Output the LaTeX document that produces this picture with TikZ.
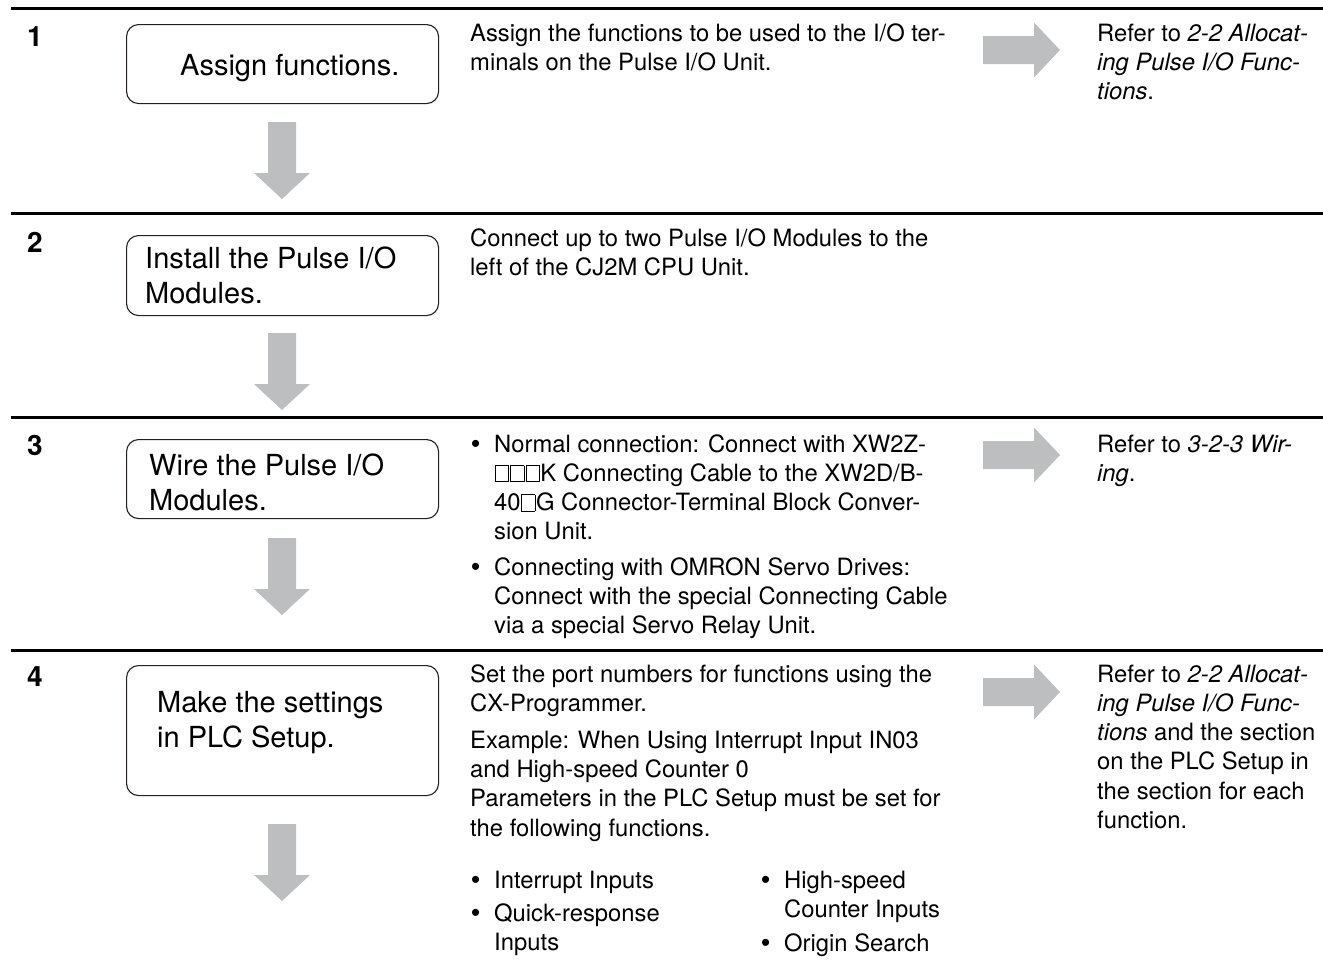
\documentclass[tikz,border=0pt]{standalone}
\usepackage{fontspec}
\setmainfont{TeX Gyre Heros}
\newfontfamily\bulfont{Liberation Sans}
\newcommand\sqb{\kern0.6pt{\fboxsep=0pt\fboxrule=0.8pt\fbox{\rule{0pt}{15.4pt}\rule{12.6pt}{0pt}}}\kern0.6pt}
\newcommand\bul{{\bulfont\fontsize{26}{29}\selectfont •}}
\definecolor{arrgray}{RGB}{188,190,192}
\definecolor{boxline}{RGB}{35,31,32}
\begin{document}
\begin{tikzpicture}[x=1pt,y=-1pt,
  rule/.style={line width=3pt,black},
  stepbox/.style={draw=boxline,line width=1.1pt,rounded corners=12pt,anchor=north west,minimum width=312pt,inner sep=0pt},
  num/.style={font=\fontsize{28}{32}\selectfont\bfseries,anchor=base west,inner sep=0pt},
  boxtxt/.style={font=\fontsize{29}{35}\selectfont,anchor=base west,inner sep=0pt,align=left},
  body/.style={font=\fontsize{23.8}{29.3}\selectfont,anchor=base west,inner sep=0pt,align=left},
  pics/darr/.style={code={\fill[arrgray] (-14,0) -- (14,0) -- (14,51) -- (28,51) -- (0,77) -- (-28,51) -- (-14,51) -- cycle;}},
  pics/rarr/.style={code={\fill[arrgray] (0,-14) -- (51,-14) -- (51,-27.5) -- (77,0) -- (51,27.5) -- (51,14) -- (0,14) -- cycle;}}
]
\useasboundingbox (0,0) rectangle (1323,964);

% horizontal rules
\draw[rule] (11,8) -- (1323,8);
\draw[rule] (11,213) -- (1323,213);
\draw[rule] (11,417) -- (1323,417);
\draw[rule] (11,650) -- (1323,650);

% step numbers (base = baseline)
\node[num] (n1) at (27,46) {1};
\node[num] (n2) at (27,252) {2};
\node[num] (n3) at (27,455) {3};
\node[num] (n4) at (27,686) {4};

% step boxes
\node[stepbox,minimum height=79pt] (b1) at (126,24) {};
\node[stepbox,minimum height=80pt] (b2) at (126,235) {};
\node[stepbox,minimum height=79pt] (b3) at (126,439) {};
\node[stepbox,minimum height=130pt] (b4) at (126,665) {};

% multi-line nodes: base anchor = baseline of last line
\node[boxtxt] (b1t) at (180,75) {Assign functions.};
\node[boxtxt] (b2t) at (145,303) {Install the Pulse I/O\\Modules.};
\node[boxtxt] (b3t) at (149,510) {Wire the Pulse I/O\\Modules.};
\node[boxtxt] (b4t) at (157,747) {Make the settings\\in PLC Setup.};

% down arrows
\pic at (282,122) {darr};
\pic at (282,333) {darr};
\pic at (282,538) {darr};
\pic at (282,824) {darr};

% right arrows
\pic at (983,50) {rarr};
\pic at (983,455) {rarr};
\pic at (983,692) {rarr};

% middle column
\node[body] (m1) at (470,70.3) {Assign the functions to be used to the I/O ter-\\minals on the Pulse I/O Unit.};
\node[body] (m2) at (470,275.3) {Connect up to two Pulse I/O Modules to the\\left of the CJ2M CPU Unit.};

\node[body] (m3a) at (471,452) {\bul};
\node[body] (m3at) at (494,539.9) {Normal connection: Connect with XW2Z-\\\sqb\sqb\sqb K Connecting Cable to the XW2D/B-\\40\sqb G Connector-Terminal Block Conver-\\sion Unit.};
\node[body] (m3b) at (471,575) {\bul};
\node[body] (m3bt) at (494,633.6) {Connecting with OMRON Servo Drives:\\Connect with the special Connecting Cable\\via a special Servo Relay Unit.};

\node[body] (m4) at (470,836) {Set the port numbers for functions using the\\CX-Programmer.\\[7.5pt]Example: When Using Interrupt Input IN03\\and High-speed Counter 0\\Parameters in the PLC Setup must be set for\\the following functions.};
\node[body] (m4a) at (471,888) {\bul};
\node[body] (m4at) at (494,888) {Interrupt Inputs};
\node[body] (m4b) at (471,921) {\bul};
\node[body] (m4bt) at (494,950.3) {Quick-response\\Inputs};
\node[body] (m4c) at (761,888) {\bul};
\node[body] (m4ct) at (784,917.3) {High-speed\\Counter Inputs};
\node[body] (m4d) at (761,951) {\bul};
\node[body] (m4dt) at (784,951) {Origin Search};

% right column
\node[body] (r1) at (1097,99.6) {Refer to \textit{2-2 Allocat-}\\\textit{ing Pulse I/O Func-}\\\textit{tions}.};
\node[body] (r3) at (1097,481.3) {Refer to \textit{3-2-3 Wir-}\\\textit{ing}.};
\node[body] (r4) at (1097,828.5) {Refer to \textit{2-2 Allocat-}\\\textit{ing Pulse I/O Func-}\\\textit{tions} and the section\\on the PLC Setup in\\the section for each\\function.};
\end{tikzpicture}
\end{document}
